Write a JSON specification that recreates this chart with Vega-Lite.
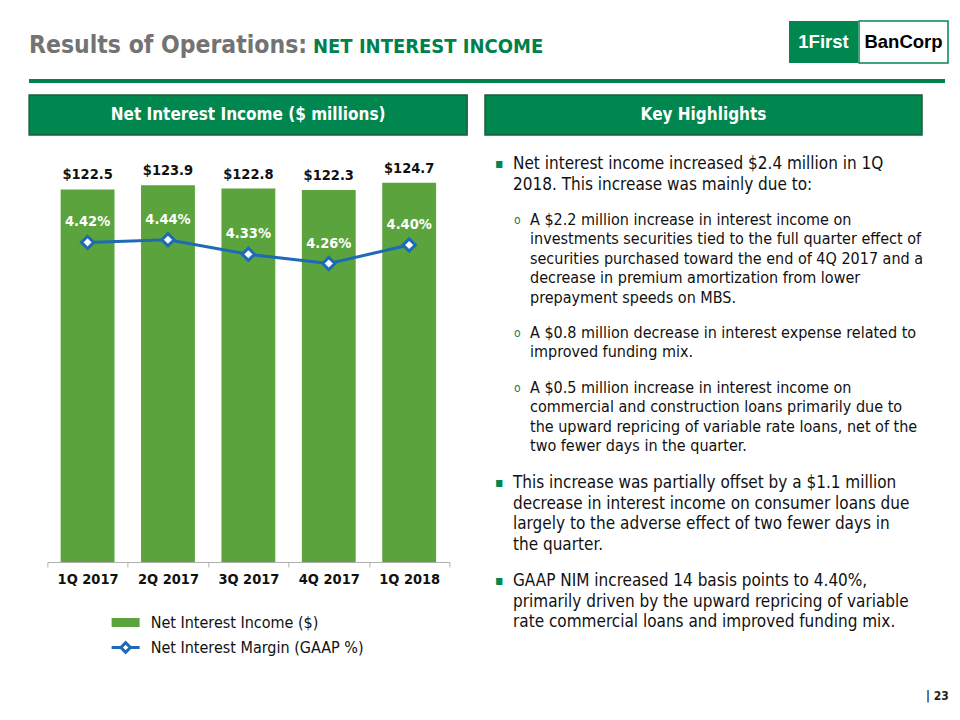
{
  "$schema": "https://vega.github.io/schema/vega-lite/v6.json",
  "background": "white",
  "padding": {"left": 28, "top": 20, "right": 4, "bottom": 4},
  "title": {"text": "| 23", "orient": "bottom", "anchor": "end", "fontSize": 12, "font": "DejaVu Sans Condensed, DejaVu Sans, sans-serif", "fontWeight": "bold", "color": "#222222", "offset": 31},
  "config": {"view": {"stroke": null}},
  "spacing": 11,
  "vconcat": [
    {
      "spacing": 0,
      "hconcat": [
        {
          "width": 760, "height": 47,
          "data": {"values": [{"a": "Results of Operations:", "b": "NET INTEREST INCOME"}]},
          "encoding": {
            "x": {"datum": 0, "type": "quantitative", "scale": {"domain": [0, 1]}, "axis": null},
            "y": {"datum": 1, "type": "quantitative", "scale": {"domain": [0, 1]}, "axis": null}
          },
          "layer": [
            {"mark": {"type": "text", "align": "left", "baseline": "alphabetic", "dy": 32, "font": "DejaVu Sans Condensed, DejaVu Sans, sans-serif", "fontSize": 24.5, "fontWeight": "bold", "color": "#737373"}, "encoding": {"text": {"field": "a", "type": "nominal"}}},
            {"mark": {"type": "text", "align": "left", "baseline": "alphabetic", "dy": 32, "dx": 284, "font": "DejaVu Sans Condensed, DejaVu Sans, sans-serif", "fontSize": 20, "fontWeight": "bold", "color": "#00804A"}, "encoding": {"text": {"field": "b", "type": "nominal"}}}
          ]
        },
        {
          "width": 69, "height": 42,
          "view": {"fill": "#00874F", "stroke": null},
          "data": {"values": [{"t": "1First"}]},
          "mark": {"type": "text", "font": "Liberation Sans, Arial, sans-serif", "fontSize": 18.5, "fontWeight": "bold", "color": "white"},
          "encoding": {"text": {"field": "t", "type": "nominal"}}
        },
        {
          "width": 89, "height": 42,
          "view": {"fill": "white", "stroke": "#00874F", "strokeWidth": 1.5},
          "data": {"values": [{"t": "BanCorp"}]},
          "mark": {"type": "text", "font": "Liberation Sans, Arial, sans-serif", "fontSize": 18.5, "fontWeight": "bold", "color": "black"},
          "encoding": {"text": {"field": "t", "type": "nominal"}}
        }
      ]
    },
    {
      "width": 916, "height": 4,
      "view": {"fill": "#00804A", "stroke": null},
      "data": {"values": [{"t": ""}]},
      "mark": {"type": "text", "fontSize": 1, "clip": true},
      "encoding": {"text": {"field": "t", "type": "nominal"}}
    },
    {
      "spacing": 16,
      "hconcat": [
        {
          "spacing": 6,
          "center": true,
          "vconcat": [
            {
              "width": 438, "height": 40,
              "view": {"fill": "#00874F", "stroke": "#1D5C3A", "strokeWidth": 1.5},
              "data": {"values": [{"t": "Net Interest Income ($ millions)"}]},
              "mark": {"type": "text", "font": "DejaVu Sans Condensed, DejaVu Sans, sans-serif", "fontSize": 17, "fontWeight": "bold", "color": "white"},
              "encoding": {"text": {"field": "t", "type": "nominal"}}
            },
            {
              "spacing": 24,
              "center": true,
              "vconcat": [
                {
                  "width": 402, "height": 420,
                  "data": {"values": [
                    {"quarter": "1Q 2017", "nii": 122.5, "nim": 0.0442},
                    {"quarter": "2Q 2017", "nii": 123.9, "nim": 0.0444},
                    {"quarter": "3Q 2017", "nii": 122.8, "nim": 0.0433},
                    {"quarter": "4Q 2017", "nii": 122.3, "nim": 0.0426},
                    {"quarter": "1Q 2018", "nii": 124.7, "nim": 0.0440}
                  ]},
                  "encoding": {
                    "x": {"field": "quarter", "type": "nominal", "sort": null,
                      "scale": {"paddingInner": 0, "paddingOuter": 0},
                      "axis": {"title": null, "labelAngle": 0, "labelFont": "DejaVu Sans Condensed, DejaVu Sans, sans-serif", "labelFontSize": 14.5, "labelFontWeight": "bold", "labelColor": "#111111", "labelPadding": 5, "domainColor": "#b0b0b0", "tickColor": "#b0b0b0", "tickSize": 5, "tickBand": "extent", "grid": false}}
                  },
                  "layer": [
                    {
                      "encoding": {"y": {"field": "nii", "type": "quantitative", "scale": {"domain": [0, 138.1], "nice": false, "zero": true}, "axis": null}},
                      "layer": [
                        {"mark": {"type": "bar", "color": "#5BA33D", "width": {"band": 0.67}}},
                        {"mark": {"type": "text", "baseline": "middle", "dy": -14, "font": "DejaVu Sans Condensed, DejaVu Sans, sans-serif", "fontSize": 14.5, "fontWeight": "bold", "color": "#111111"},
                         "encoding": {"text": {"field": "nii", "type": "quantitative", "format": "$.1f"}}}
                      ]
                    },
                    {
                      "encoding": {"y": {"field": "nim", "type": "quantitative", "scale": {"domain": [0.02, 0.0518], "nice": false, "zero": false}, "axis": null}},
                      "layer": [
                        {"mark": {"type": "line", "color": "#1F6AB5", "strokeWidth": 3}},
                        {"mark": {"type": "point", "shape": "diamond", "filled": true, "fill": "white", "stroke": "#1F6AB5", "strokeWidth": 3, "size": 150, "opacity": 1}},
                        {"mark": {"type": "text", "baseline": "middle", "dy": -20, "font": "DejaVu Sans Condensed, DejaVu Sans, sans-serif", "fontSize": 14.5, "fontWeight": "bold", "color": "white"},
                         "encoding": {"text": {"field": "nim", "type": "quantitative", "format": ".2%"}}}
                      ]
                    }
                  ],
                  "resolve": {"scale": {"y": "independent"}}
                },
                {
                  "width": 274, "height": 50,
                  "data": {"values": [
                    {"series": "Net Interest Income ($)"},
                    {"series": "Net Interest Margin (GAAP %)"}
                  ]},
                  "encoding": {
                    "x": {"datum": 0, "type": "quantitative", "scale": {"domain": [0, 1]}, "axis": null},
                    "y": {"field": "series", "type": "nominal", "sort": null, "axis": null}
                  },
                  "layer": [
                    {"transform": [{"filter": {"field": "series", "equal": "Net Interest Income ($)"}}],
                     "mark": {"type": "point", "shape": "M0,-0.32H2V0.32H0Z", "size": 784, "filled": true, "fill": "#5BA33D", "strokeWidth": 0, "opacity": 1}},
                    {"transform": [{"filter": {"field": "series", "equal": "Net Interest Margin (GAAP %)"}}],
                     "mark": {"type": "point", "shape": "M0,0H0.66M1.34,0H2M0.66,0L1,-0.34L1.34,0L1,0.34Z", "size": 784, "filled": true, "fill": "white", "stroke": "#1F6AB5", "strokeWidth": 3, "opacity": 1}},
                    {"mark": {"type": "text", "align": "left", "baseline": "middle", "dx": 39, "font": "DejaVu Sans Condensed, DejaVu Sans, sans-serif", "fontSize": 16, "color": "#111111"},
                     "encoding": {"text": {"field": "series", "type": "nominal"}}}
                  ]
                }
              ]
            }
          ]
        },
        {
          "spacing": 18,
          "vconcat": [
            {
              "width": 437, "height": 40,
              "view": {"fill": "#00874F", "stroke": "#1D5C3A", "strokeWidth": 1.5},
              "data": {"values": [{"t": "Key Highlights"}]},
              "mark": {"type": "text", "font": "DejaVu Sans Condensed, DejaVu Sans, sans-serif", "fontSize": 17, "fontWeight": "bold", "color": "white"},
              "encoding": {"text": {"field": "t", "type": "nominal"}}
            },
            {
              "spacing": 16,
              "vconcat": [
                {
                  "width": 437, "height": 41,
                  "data": {"values": [{"bullet": "▪", "lines": ["Net interest income increased $2.4 million in 1Q", "2018. This increase was mainly due to:"]}]},
                  "encoding": {
                    "x": {"datum": 0, "type": "quantitative", "scale": {"domain": [0, 1]}, "axis": null},
                    "y": {"datum": 1, "type": "quantitative", "scale": {"domain": [0, 1]}, "axis": null}
                  },
                  "layer": [
                    {"mark": {"type": "text", "align": "left", "baseline": "line-top", "lineHeight": 20.5, "dx": 10, "font": "DejaVu Sans Condensed, DejaVu Sans, sans-serif", "fontSize": 14, "color": "#00874F"}, "encoding": {"text": {"field": "bullet", "type": "nominal"}}},
                    {"mark": {"type": "text", "align": "left", "baseline": "line-top", "lineHeight": 20.5, "dx": 28, "font": "DejaVu Sans Condensed, DejaVu Sans, sans-serif", "fontSize": 17, "color": "#111111"}, "encoding": {"text": {"field": "lines", "type": "nominal"}}}
                  ]
                },
                {
                  "width": 437, "height": 97,
                  "data": {"values": [{"bullet": "o", "lines": ["A $2.2 million increase in interest income on", "investments securities tied to the full quarter effect of", "securities purchased toward the end of 4Q 2017 and a", "decrease in premium amortization from lower", "prepayment speeds on MBS."]}]},
                  "encoding": {
                    "x": {"datum": 0, "type": "quantitative", "scale": {"domain": [0, 1]}, "axis": null},
                    "y": {"datum": 1, "type": "quantitative", "scale": {"domain": [0, 1]}, "axis": null}
                  },
                  "layer": [
                    {"mark": {"type": "text", "align": "left", "baseline": "line-top", "lineHeight": 19.4, "dx": 29, "font": "DejaVu Sans Condensed, DejaVu Sans, sans-serif", "fontSize": 12, "color": "#00874F"}, "encoding": {"text": {"field": "bullet", "type": "nominal"}}},
                    {"mark": {"type": "text", "align": "left", "baseline": "line-top", "lineHeight": 19.4, "dx": 45, "font": "DejaVu Sans Condensed, DejaVu Sans, sans-serif", "fontSize": 16, "color": "#111111"}, "encoding": {"text": {"field": "lines", "type": "nominal"}}}
                  ]
                },
                {
                  "width": 437, "height": 38.8,
                  "data": {"values": [{"bullet": "o", "lines": ["A $0.8 million decrease in interest expense related to", "improved funding mix."]}]},
                  "encoding": {
                    "x": {"datum": 0, "type": "quantitative", "scale": {"domain": [0, 1]}, "axis": null},
                    "y": {"datum": 1, "type": "quantitative", "scale": {"domain": [0, 1]}, "axis": null}
                  },
                  "layer": [
                    {"mark": {"type": "text", "align": "left", "baseline": "line-top", "lineHeight": 19.4, "dx": 29, "font": "DejaVu Sans Condensed, DejaVu Sans, sans-serif", "fontSize": 12, "color": "#00874F"}, "encoding": {"text": {"field": "bullet", "type": "nominal"}}},
                    {"mark": {"type": "text", "align": "left", "baseline": "line-top", "lineHeight": 19.4, "dx": 45, "font": "DejaVu Sans Condensed, DejaVu Sans, sans-serif", "fontSize": 16, "color": "#111111"}, "encoding": {"text": {"field": "lines", "type": "nominal"}}}
                  ]
                },
                {
                  "width": 437, "height": 77.6,
                  "data": {"values": [{"bullet": "o", "lines": ["A $0.5 million increase in interest income on", "commercial and construction loans primarily due to", "the upward repricing of variable rate loans, net of the", "two fewer days in the quarter."]}]},
                  "encoding": {
                    "x": {"datum": 0, "type": "quantitative", "scale": {"domain": [0, 1]}, "axis": null},
                    "y": {"datum": 1, "type": "quantitative", "scale": {"domain": [0, 1]}, "axis": null}
                  },
                  "layer": [
                    {"mark": {"type": "text", "align": "left", "baseline": "line-top", "lineHeight": 19.4, "dx": 29, "font": "DejaVu Sans Condensed, DejaVu Sans, sans-serif", "fontSize": 12, "color": "#00874F"}, "encoding": {"text": {"field": "bullet", "type": "nominal"}}},
                    {"mark": {"type": "text", "align": "left", "baseline": "line-top", "lineHeight": 19.4, "dx": 45, "font": "DejaVu Sans Condensed, DejaVu Sans, sans-serif", "fontSize": 16, "color": "#111111"}, "encoding": {"text": {"field": "lines", "type": "nominal"}}}
                  ]
                },
                {
                  "width": 437, "height": 82,
                  "data": {"values": [{"bullet": "▪", "lines": ["This increase was partially offset by a $1.1 million", "decrease in interest income on consumer loans due", "largely to the adverse effect of two fewer days in", "the quarter."]}]},
                  "encoding": {
                    "x": {"datum": 0, "type": "quantitative", "scale": {"domain": [0, 1]}, "axis": null},
                    "y": {"datum": 1, "type": "quantitative", "scale": {"domain": [0, 1]}, "axis": null}
                  },
                  "layer": [
                    {"mark": {"type": "text", "align": "left", "baseline": "line-top", "lineHeight": 20.5, "dx": 10, "font": "DejaVu Sans Condensed, DejaVu Sans, sans-serif", "fontSize": 14, "color": "#00874F"}, "encoding": {"text": {"field": "bullet", "type": "nominal"}}},
                    {"mark": {"type": "text", "align": "left", "baseline": "line-top", "lineHeight": 20.5, "dx": 28, "font": "DejaVu Sans Condensed, DejaVu Sans, sans-serif", "fontSize": 17, "color": "#111111"}, "encoding": {"text": {"field": "lines", "type": "nominal"}}}
                  ]
                },
                {
                  "width": 437, "height": 61.5,
                  "data": {"values": [{"bullet": "▪", "lines": ["GAAP NIM increased 14 basis points to 4.40%,", "primarily driven by the upward repricing of variable", "rate commercial loans and improved funding mix."]}]},
                  "encoding": {
                    "x": {"datum": 0, "type": "quantitative", "scale": {"domain": [0, 1]}, "axis": null},
                    "y": {"datum": 1, "type": "quantitative", "scale": {"domain": [0, 1]}, "axis": null}
                  },
                  "layer": [
                    {"mark": {"type": "text", "align": "left", "baseline": "line-top", "lineHeight": 20.5, "dx": 10, "font": "DejaVu Sans Condensed, DejaVu Sans, sans-serif", "fontSize": 14, "color": "#00874F"}, "encoding": {"text": {"field": "bullet", "type": "nominal"}}},
                    {"mark": {"type": "text", "align": "left", "baseline": "line-top", "lineHeight": 20.5, "dx": 28, "font": "DejaVu Sans Condensed, DejaVu Sans, sans-serif", "fontSize": 17, "color": "#111111"}, "encoding": {"text": {"field": "lines", "type": "nominal"}}}
                  ]
                }
              ]
            }
          ]
        }
      ]
    }
  ]
}
